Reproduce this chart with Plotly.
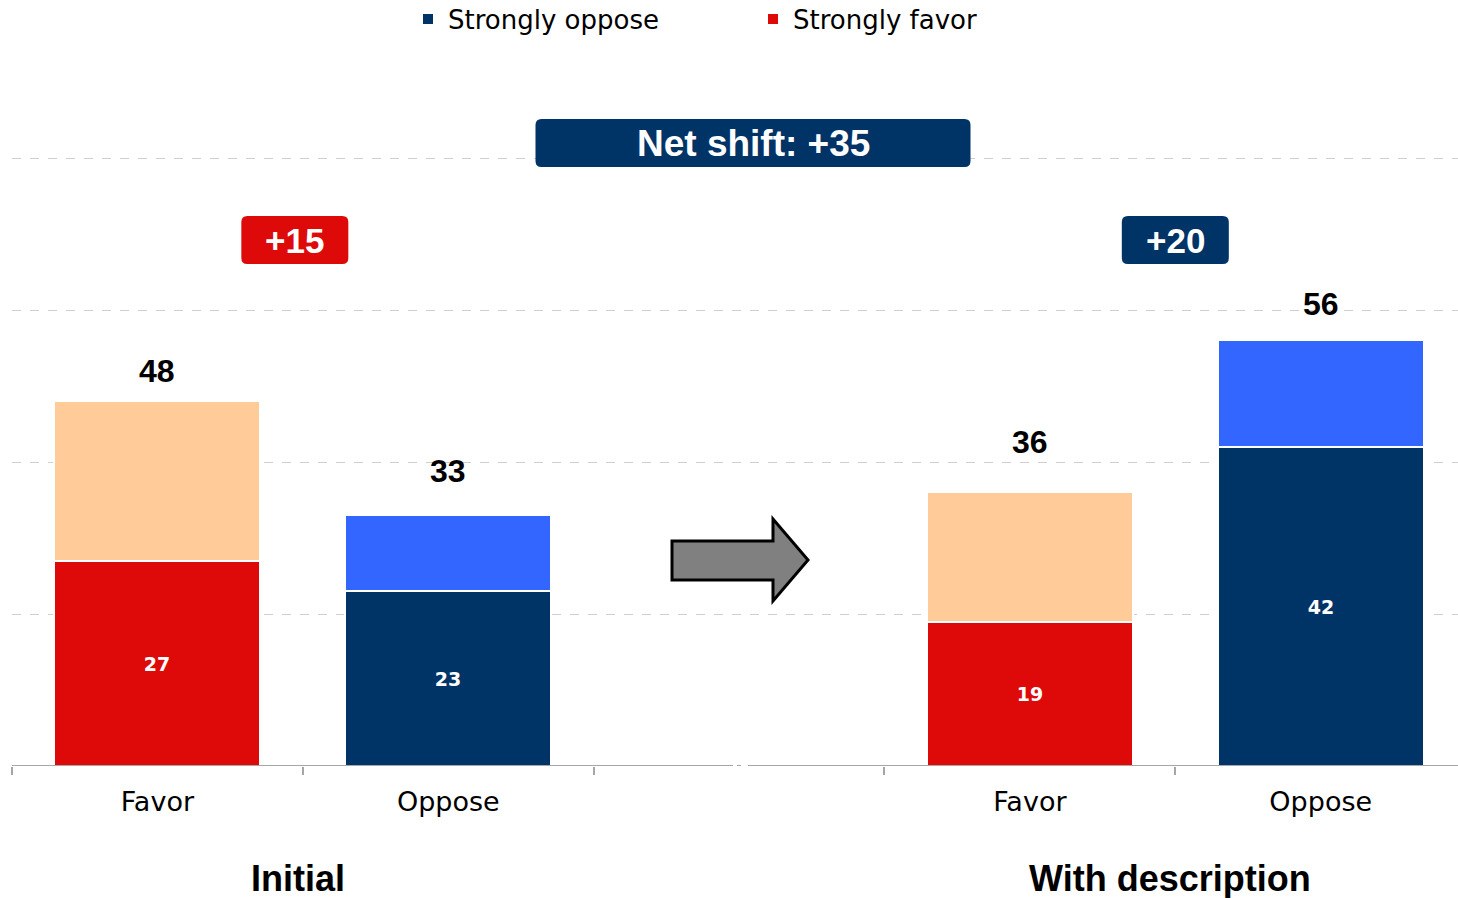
import plotly.graph_objects as go

# ---------------- data ----------------
groups = ["Initial", "With description"]
favor_pos = [0, 3]          # category slots (slot 2 is the empty gap)
oppose_pos = [1, 4]
strongly_favor = [27, 19]
somewhat_favor = [21, 17]   # total favor 48, 36
strongly_oppose = [23, 42]
somewhat_oppose = [10, 14]  # total oppose 33, 56
tick_labels = ["Favor", "Oppose", "Favor", "Oppose"]
tick_slots = [0, 1, 3, 4]
grid_vals = [20, 40, 60, 80]

favor_total = [a + b for a, b in zip(strongly_favor, somewhat_favor)]
oppose_total = [a + b for a, b in zip(strongly_oppose, somewhat_oppose)]

# ---------------- style ----------------
RED = "#DE0A0A"
PEACH = "#FFCC99"
NAVY = "#003366"
BLUE = "#3366FF"
OFF = 0                      # body margin removed by post_script
W, H = 1458 - OFF, 898 - OFF
ML, MB, MT, MR = 12 - OFF, 132, 0, 0
PLOT_H = H - MB - MT
SY = 7.6                     # px per unit
XR = [-0.5, 4.472]
YR = [0, PLOT_H / SY]
SX = (W - ML - MR) / (XR[1] - XR[0])   # px per x unit
BAR_W = 0.708
favor_label_shift = [30, 50]   # px gap from bar top to total label centre
oppose_label_shift = [44, 36]


def px_to_x(px):             # reference-image pixel -> data x
    return XR[0] + (px - OFF - ML) / SX


def px_to_y(py):             # reference-image pixel -> data y
    return (H - MB - (py - OFF)) / SY


def px_to_paper_y(py):
    return (H - MB - (py - OFF)) / PLOT_H


def px_to_paper_x(px):
    return (px - OFF - ML) / (W - ML - MR)


def rounded_rect(cx, cy, wpx, hpx, rpx=6):
    hw, hh = wpx / 2 / SX, hpx / 2 / SY
    rx, ry = rpx / SX, rpx / SY
    x0, x1, y0, y1 = cx - hw, cx + hw, cy - hh, cy + hh
    return (f"M{x0+rx},{y0} L{x1-rx},{y0} Q{x1},{y0} {x1},{y0+ry} "
            f"L{x1},{y1-ry} Q{x1},{y1} {x1-rx},{y1} L{x0+rx},{y1} "
            f"Q{x0},{y1} {x0},{y1-ry} L{x0},{y0+ry} Q{x0},{y0} {x0+rx},{y0} Z")


fig = go.Figure()
sep = dict(color="white", width=2)
inner_font = dict(family="DejaVu Sans", size=19, color="white", weight="bold")
fig.add_bar(x=favor_pos, y=strongly_favor, name="Strongly favor", marker=dict(color=RED, line=sep),
            width=BAR_W, text=strongly_favor, textposition="inside", insidetextanchor="middle",
            textfont=inner_font, legendrank=2, hoverinfo="skip")
fig.add_bar(x=favor_pos, y=somewhat_favor, name="Somewhat favor", marker=dict(color=PEACH, line=sep),
            width=BAR_W, showlegend=False, hoverinfo="skip")
fig.add_bar(x=oppose_pos, y=strongly_oppose, name="Strongly oppose", marker=dict(color=NAVY, line=sep),
            width=BAR_W, text=strongly_oppose, textposition="inside", insidetextanchor="middle",
            textfont=inner_font, legendrank=1, hoverinfo="skip")
fig.add_bar(x=oppose_pos, y=somewhat_oppose, name="Somewhat oppose", marker=dict(color=BLUE, line=sep),
            width=BAR_W, showlegend=False, hoverinfo="skip")

annotations = []
# totals above bars
for xs, tots, shifts in ((favor_pos, favor_total, favor_label_shift),
                         (oppose_pos, oppose_total, oppose_label_shift)):
    for x, t, s in zip(xs, tots, shifts):
        annotations.append(dict(x=x, y=t, text=f"<b>{t}</b>", showarrow=False, yanchor="middle",
                                yshift=s, font=dict(family="Liberation Sans", size=32, color="black")))

# group labels
for i, g in enumerate(groups):
    cx = (favor_pos[i] + oppose_pos[i]) / 2
    annotations.append(dict(x=cx, y=px_to_paper_y(879), yref="paper", text=f"<b>{g}</b>",
                            showarrow=False, yanchor="middle", xshift=-5,
                            font=dict(family="Liberation Sans", size=36, color="black")))

shapes = []
# net badges
badge_y = px_to_y(240)
net_vals = []
for i in range(len(groups)):
    diff = favor_total[i] - oppose_total[i]
    net_vals.append(abs(diff))
    color = RED if diff > 0 else NAVY
    cx = (favor_pos[i] + oppose_pos[i]) / 2 + (-8 / SX if i == 0 else 0)
    shapes.append(dict(type="path", path=rounded_rect(cx, badge_y, 107, 48), fillcolor=color,
                       line=dict(width=0), layer="above"))
    annotations.append(dict(x=cx, y=badge_y, text=f"<b>+{abs(diff)}</b>", showarrow=False,
                            font=dict(family="Liberation Sans", size=35, color="white")))

net_shift = sum(net_vals)
ns_x, ns_y = px_to_x(753), px_to_y(143)
shapes.append(dict(type="path", path=rounded_rect(ns_x, ns_y, 435, 48), fillcolor=NAVY,
                   line=dict(width=0), layer="above"))
annotations.append(dict(x=ns_x, y=ns_y, text=f"<b>Net shift: +{net_shift}</b>", showarrow=False,
                        font=dict(family="Liberation Sans", size=37, color="white")))

# block arrow
ax0, ax1, ax2 = px_to_x(672), px_to_x(773), px_to_x(808)
ay_mid = px_to_y(560)
s_top, s_bot = px_to_y(541), px_to_y(580)
h_top, h_bot = px_to_y(519), px_to_y(601)
arrow_path = (f"M{ax0},{s_top} L{ax1},{s_top} L{ax1},{h_top} L{ax2},{ay_mid} "
              f"L{ax1},{h_bot} L{ax1},{s_bot} L{ax0},{s_bot} Z")
shapes.append(dict(type="path", path=arrow_path, fillcolor="#808080",
                   line=dict(color="black", width=3), layer="above"))

# x axis baseline with small break
AXC = "#A6A6A6"
gap_a, dot_a, dot_b, gap_b = px_to_x(733), px_to_x(737), px_to_x(741), px_to_x(748)
for a, b in ((XR[0], gap_a), (dot_a, dot_b), (gap_b, XR[1])):
    shapes.append(dict(type="line", x0=a, x1=b, y0=0, y1=0, yref="y",
                       line=dict(color=AXC, width=2), layer="above"))

fig.update_layout(
    width=W, height=H,
    barmode="stack", bargap=0,
    plot_bgcolor="white", paper_bgcolor="white",
    margin=dict(l=ML, r=MR, t=MT, b=MB, autoexpand=False),
    showlegend=True,
    legend=dict(orientation="h", x=px_to_paper_x(408), xanchor="left",
                y=px_to_paper_y(19), yanchor="middle",
                font=dict(family="DejaVu Sans", size=26, color="black"),
                itemwidth=30, entrywidth=300, entrywidthmode="pixels",
                bgcolor="rgba(0,0,0,0)", traceorder="normal"),
    xaxis=dict(range=XR, tickmode="array", tickvals=tick_slots, ticktext=tick_labels,
               ticks="", showgrid=False, zeroline=False, showline=False,
               tickfont=dict(family="DejaVu Sans", size=27, color="black"),
               ticklabelstandoff=17,
               minor=dict(ticks="outside", tick0=0.5, dtick=1, ticklen=8, tickwidth=2,
                          tickcolor=AXC, showgrid=False)),
    yaxis=dict(range=YR, tickmode="array", tickvals=grid_vals, showticklabels=False,
               showgrid=True, gridcolor="#CFCFCF", griddash="dash", gridwidth=1,
               zeroline=False, showline=False),
    annotations=annotations,
    shapes=shapes,
)

fig.write_html("out.html", config={"displayModeBar": False},
               post_script="document.body.style.margin='0px';document.body.style.overflow='hidden';")
